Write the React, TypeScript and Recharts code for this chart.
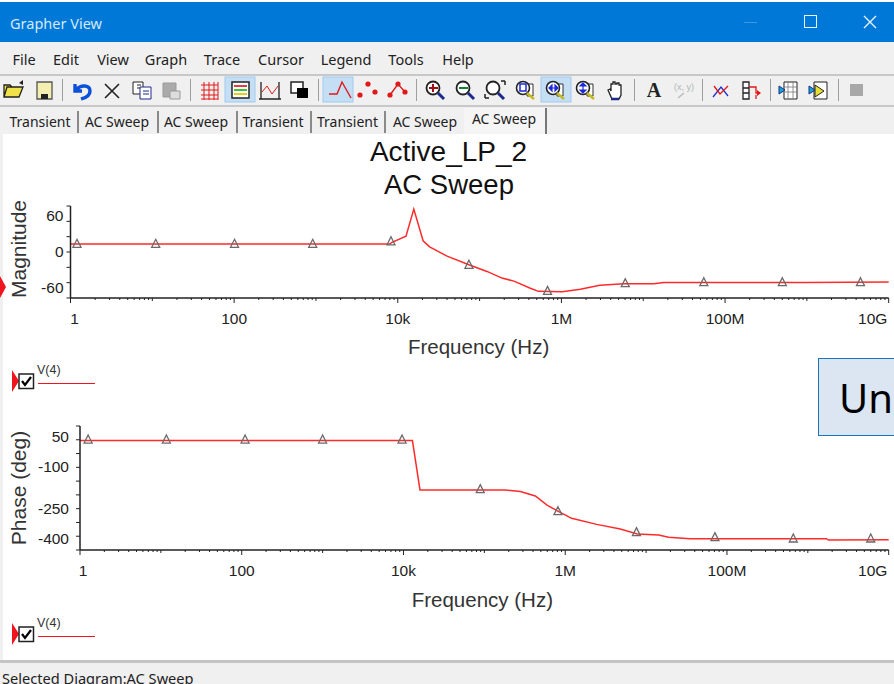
import { ComposedChart, Line, XAxis, YAxis } from 'recharts';
import type { CSSProperties, ReactNode } from 'react';

// sweep data
const magFreq = [1, 100, 1000, 8000, 8500, 12600, 15700, 20400, 24500, 40000, 74000, 123000, 188000, 263000, 417000, 525000, 1020000, 1700000, 2950000, 5800000, 13500000, 17800000, 1e9, 1e10];
const magValues = [15.5, 15.5, 15.5, 15.5, 19, 31, 84, 22, 10, -8, -25, -38, -51, -57, -71, -77, -78, -73, -65, -62, -62, -59.5, -59.5, -58.5];
const magMarkerFreq = [1.2, 11, 101, 912, 8260, 74100, 676000, 6030000, 55000000, 501000000, 4520000000];
const magMarkerValues = [15, 15, 15, 15, 20, -26, -77, -62, -60, -60, -60];

const phaseFreq = [1, 100, 1000, 12900, 16000, 182000, 279000, 427000, 596000, 832000, 1200000, 2450000, 4800000, 7800000, 14300000, 19000000, 35000000, 1700000000, 1800000000, 1e10];
const phaseValues = [-3, -3, -3, -3, -182, -182, -188, -204, -237, -261, -285, -307, -324, -342, -346, -354, -359, -359, -364, -363];
const phaseMarkerFreq = [1.26, 11.7, 110, 1000, 9600, 89000, 813000, 7600000, 71000000, 661000000, 6000000000];
const phaseMarkerValues = [-1, -1, -1, -1, -1, -181, -261, -337, -355, -360, -360];

const xMajorTicks = [1, 100, 10000, 1000000, 100000000, 10000000000];
const xMajorLabels = ['1', '100', '10k', '1M', '100M', '10G'];
const magTicks = [90, 60, 30, 0, -30, -60, -90];
const magTickLabels = [60, 0, -60];
const phaseTicks = [50, 0, -50, -100, -150, -200, -250, -300, -350, -400];
const phaseTickLabels = [50, -100, -250, -400];

const menuItems: [string, number][] = [['File', 24], ['Edit', 66], ['View', 113], ['Graph', 166], ['Trace', 222], ['Cursor', 281], ['Legend', 346], ['Tools', 406], ['Help', 458]];
const tabItems: [string, number][] = [['Transient', 40], ['AC Sweep', 117], ['AC Sweep', 196], ['Transient', 273], ['Transient', 347.5], ['AC Sweep', 425]];
const tabDividers = [77, 157, 236, 310, 384, 464];
const toolbarDividers = [62, 190, 318, 416, 634, 702, 770, 838];

const xTicks: number[] = [];
for (let d = 0; d < 10; d++) {
  for (let m = 1; m < 10; m++) xTicks.push(m * 10 ** d);
}
xTicks.push(1e10);

const toTable = (freq: number[], values: number[]) => freq.map((f, i) => ({ f, v: values[i] }));

const FONT = '"Liberation Sans", Arial, sans-serif';
const UI_FONT = '"Noto Sans", sans-serif';
const INK = '#222';

const XTick = ({ x, y, payload, firstShift }: any) => {
  const idx = xMajorTicks.indexOf(payload.value);
  const decade = Math.abs(Math.log10(payload.value) % 1) < 1e-9;
  const len = idx >= 0 ? 5 : decade ? 3 : 2;
  let dx = 0;
  if (idx === 0) dx = firstShift;
  if (idx === 5) dx = -16;
  return (
    <g>
      <line x1={x} x2={x} y1={y} y2={y + len} stroke={INK} strokeWidth={1} />
      {idx >= 0 && (
        <text x={x + dx} y={y + 25.5} textAnchor="middle" fontSize={15.5} fontFamily={FONT} fill={INK}>
          {xMajorLabels[idx]}
        </text>
      )}
    </g>
  );
};

const YTick = ({ x, y, payload, labels, gap, edgeShift }: any) => {
  const v = payload.value;
  const show = labels.includes(v);
  // the grapher nudges the outer labels towards or away from the plot
  let dy = 0;
  if (show && v === labels[0]) dy = edgeShift;
  if (show && v === labels[labels.length - 1]) dy = -edgeShift;
  return (
    <g>
      <line x1={x - 4} x2={x} y1={y} y2={y} stroke={INK} strokeWidth={1} />
      {show && (
        <text x={x - gap} y={y + dy + 5} textAnchor="end" fontSize={15.5} fontFamily={FONT} fill={INK}>
          {v}
        </text>
      )}
    </g>
  );
};

const Triangle = ({ cx, cy }: any) => {
  if (cx == null || cy == null) return null;
  return <path d={`M${cx} ${cy - 5}L${cx + 4} ${cy + 3}H${cx - 4}Z`} fill="none" stroke="#6a6a6a" strokeWidth={1.3} />;
};

interface PlotProps {
  top: number;
  height: number;
  left: number;
  yLabel: string;
  yDomain: [number, number];
  yTicks: number[];
  yTickLabels: number[];
  line: { f: number; v: number }[];
  markers: { f: number; v: number }[];
  labelGap: number;
  edgeShift: number;
  firstShift: number;
  yLabelDy: number;
  xLabelDx: number;
  xLabelOffset: number;
}

const Plot = ({ top, height, left, yLabel, yDomain, yTicks, yTickLabels, line, markers, labelGap, edgeShift, firstShift, yLabelDy, xLabelDx, xLabelOffset }: PlotProps) => (
  <div style={{ position: 'absolute', left: 0, top: top - 6 }}>
    <ComposedChart width={894} height={height + 6 + 64} margin={{ top: 6, right: 5.3, bottom: 0, left: 0 }}>
      <XAxis
        dataKey="f"
        type="number"
        scale="log"
        domain={[1, 1e10]}
        ticks={xTicks}
        interval={0}
        height={64}
        tickSize={0}
        tickMargin={0}
        tickLine={false}
        stroke={INK}
        strokeWidth={1.5}
        allowDuplicatedCategory={false}
        tick={<XTick firstShift={firstShift} />}
        label={{ value: 'Frequency (Hz)', position: 'insideBottom', offset: xLabelOffset, dx: xLabelDx, fontSize: 20.5, fontFamily: FONT, fill: '#333' }}
      />
      <YAxis
        type="number"
        width={left}
        domain={yDomain}
        ticks={yTicks}
        interval={0}
        tickSize={0}
        tickMargin={0}
        tickLine={false}
        stroke={INK}
        strokeWidth={1.5}
        tick={<YTick labels={yTickLabels} gap={labelGap} edgeShift={edgeShift} />}
        label={{ value: yLabel, angle: -90, position: 'insideLeft', dx: 14, dy: yLabelDy, fontSize: 21, fontFamily: FONT, fill: '#333', style: { textAnchor: 'middle' } }}
      />
      <Line data={line} dataKey="v" type="linear" stroke="#ff2a2a" strokeWidth={1.5} dot={false} isAnimationActive={false} />
      <Line data={markers} dataKey="v" stroke="none" dot={<Triangle />} activeDot={false} isAnimationActive={false} />
    </ComposedChart>
  </div>
);

const At = ({ x, y, size, font = UI_FONT, color = '#222', children, align = 'center', style }: { x: number; y: number; size: number; font?: string; color?: string; children: ReactNode; align?: string; style?: CSSProperties }) => (
  <span
    style={{
      position: 'absolute',
      left: x,
      top: y,
      fontSize: size,
      fontFamily: font,
      color,
      whiteSpace: 'nowrap',
      lineHeight: 1,
      transform: align === 'center' ? 'translate(-50%,-50%)' : 'translateY(-50%)',
      ...style,
    }}
  >
    {children}
  </span>
);

const Box = ({ x, y, w, h, bg, style }: { x: number; y: number; w: number; h: number; bg?: string; style?: CSSProperties }) => (
  <div style={{ position: 'absolute', left: x, top: y, width: w, height: h, background: bg, boxSizing: 'border-box', ...style }} />
);

// toolbar glyphs, drawn in one svg in page coordinates
const Lens = ({ x, inner }: { x: number; inner?: ReactNode }) => (
  <g>
    <circle cx={x - 2} cy={88} r={6.5} fill="#fff" stroke="#222" strokeWidth={1.8} />
    <path d={`M${x + 3} ${93}l6 6`} stroke="#1c2a8c" strokeWidth={3} />
    {inner}
  </g>
);

const ZoomTool = ({ x, children }: { x: number; children: ReactNode }) => (
  <g>
    <path d={`M${x + 2} ${84}h6v12h-6z`} fill="#fff" stroke="#333" strokeWidth={1} />
    <circle cx={x - 2} cy={88} r={6.5} fill="#fff" stroke="#222" strokeWidth={1.6} />
    <path d={`M${x + 2} ${93}l7 6`} stroke="#c8b820" strokeWidth={2.5} />
    {children}
  </g>
);

const Toolbar = () => (
  <svg width={894} height={30} viewBox="0 75 894 30" style={{ position: 'absolute', left: 0, top: 75 }}>
    <rect x={225} y={77} width={30} height={25} fill="#c4def4" stroke="#9fcbf0" />
    <rect x={323} y={77} width={30} height={25} fill="#c4def4" stroke="#9fcbf0" />
    <rect x={541} y={77} width={30} height={25} fill="#c4def4" stroke="#9fcbf0" />
    {toolbarDividers.map((x) => (
      <line key={x} x1={x + 0.5} x2={x + 0.5} y1={79} y2={101} stroke="#a0a0a0" />
    ))}
    {/* open, save */}
    <path d="M4 97l3-10h16l-4 10zM4 97V85h6l2 2h5" fill="#f2e24a" stroke="#222" strokeWidth={1.3} />
    <path d="M19 83l4-3v5z" fill="#222" />
    <path d="M37 82h15v17H37z" fill="#f4efb0" stroke="#555" strokeWidth={1.3} />
    <path d="M41 94h7v5h-7z" fill="#222" />
    {/* undo, delete, copy, paste */}
    <path d="M75 84v7h7M76 90c5-6 14-5 14 1s-6 7-9 8" fill="none" stroke="#0a50d8" strokeWidth={3.4} />
    <path d="M105 84l14 14M119 84l-14 14" stroke="#222" strokeWidth={1.6} />
    <path d="M133 82h10v12h-10z" fill="#fff" stroke="#222" />
    <path d="M137 85h4M137 88h4" stroke="#222" />
    <path d="M140 87h11v12h-11z" fill="#fff" stroke="#1c2a8c" />
    <path d="M143 91h6M143 94h6" stroke="#1c2a8c" />
    <path d="M163 83h13v14h-13z" fill="#aaa" stroke="#999" />
    <path d="M170 91h10v8h-10z" fill="#ddd" stroke="#999" />
    {/* grid, legend, toggle, overlay */}
    <path d="M201 85h17M201 90h17M201 95h17M201 99h17M204 82v18M209 82v18M214 82v18M218 82v18" stroke="#e01818" />
    <rect x={232} y={82} width={17} height={16} fill="#fff" stroke="#222" strokeWidth={1.5} />
    <path d="M234 86h13" stroke="#e04040" strokeWidth={2} />
    <path d="M234 90h13" stroke="#40c040" strokeWidth={2} />
    <path d="M234 94h13" stroke="#e0d020" strokeWidth={2} />
    <path d="M261 82v17M279 82v17M259 99h22" stroke="#222" strokeWidth={1.3} fill="none" />
    <path d="M262 92l5-6 5 8 6-8" stroke="#e01818" fill="none" />
    <rect x={291} y={82} width={12} height={11} fill="#fff" stroke="#222" strokeWidth={1.5} />
    <rect x={297} y={88} width={11} height={10} fill="#000" />
    {/* line, points, line and points */}
    <path d="M329 94h8l5-12 9 16" fill="none" stroke="#e01818" strokeWidth={1.4} />
    <circle cx={360} cy={95} r={2.6} fill="#e01818" />
    <circle cx={368} cy={84} r={2.6} fill="#e01818" />
    <circle cx={375} cy={92} r={2.6} fill="#e01818" />
    <path d="M390 95l8-11 7 8" fill="none" stroke="#e01818" strokeWidth={1.4} />
    <circle cx={390} cy={95} r={2.6} fill="#e01818" />
    <circle cx={398} cy={84} r={2.6} fill="#e01818" />
    <circle cx={405} cy={92} r={2.6} fill="#e01818" />
    {/* zoom tools */}
    <Lens x={435} inner={<path d="M429 88h9M433 84v8" stroke="#a01010" strokeWidth={2} />} />
    <Lens x={465} inner={<path d="M459 88h9" stroke="#108030" strokeWidth={2} />} />
    <Lens x={495} inner={<path d="M485 98v-4M485 98h4M505 81h-4M505 81v4" stroke="#222" strokeWidth={1.5} fill="none" />} />
    <ZoomTool x={525}>
      <rect x={520} y={84} width={6} height={7} fill="none" stroke="#1c2ad8" strokeWidth={1.5} />
    </ZoomTool>
    <ZoomTool x={555}>
      <path d="M549 88h9M549 88l3-3v6zM558 88l-3-3v6z" stroke="#1c2ad8" fill="#1c2ad8" strokeWidth={1.2} />
    </ZoomTool>
    <ZoomTool x={585}>
      <path d="M583 83v10M583 83l-3 3h6zM583 93l-3-3h6z" stroke="#1c2ad8" fill="#1c2ad8" strokeWidth={1.2} />
    </ZoomTool>
    <path d="M608 90l2-1 1 2v-7h2v-2h2v2h2v-1h2v2h2v10l-2 4h-7z" fill="#fff" stroke="#222" strokeWidth={1.3} />
    <path d="M611 99h8" stroke="#1c2a8c" strokeWidth={2.5} />
    <text x={654} y={97} textAnchor="middle" fontSize={20} fontWeight={700} fontFamily='"Liberation Serif", serif' fill="#222">A</text>
    <text x={684} y={90} textAnchor="middle" fontSize={9} fontFamily={FONT} fill="#b5b5b5">(x, y)</text>
    <path d="M678 98l6-5" stroke="#bbb" strokeWidth={1.5} />
    {/* cursors, export */}
    <path d="M713 97l8-10 7 9" fill="none" stroke="#2030d0" strokeWidth={1.3} />
    <path d="M714 86l6 8 8-8" fill="none" stroke="#e01818" strokeWidth={1.3} />
    <path d="M743 82h6v17h-6zM743 88h6M743 93h6" fill="#fff" stroke="#222" strokeWidth={1.3} />
    <path d="M749 87h7v6h4M756 99v-4" fill="none" stroke="#e01818" strokeWidth={1.3} />
    <path d="M757 90l4 3-4 3z" fill="#e01818" />
    <path d="M784 82h13v17h-13z" fill="#fff" stroke="#222" />
    <path d="M784 87h13M784 92h13M788 82v17M793 82v17" stroke="#777" strokeWidth={0.8} />
    <path d="M779 86l6 4-6 4z" fill="#10a8d0" stroke="#1c2a8c" />
    <path d="M814 82h13v17h-13z" fill="#fff" stroke="#222" />
    <path d="M815 85l9 6-9 6z" fill="#e8e030" stroke="#222" />
    <path d="M809 86l6 4-6 4z" fill="#10a8d0" stroke="#1c2a8c" />
    <rect x={850} y={84} width={13} height={12} fill="#a8a8a8" />
  </svg>
);

const RedMark = ({ x, y, w, h }: { x: number; y: number; w: number; h: number }) => (
  <svg width={w} height={h} style={{ position: 'absolute', left: x, top: y }}>
    <path d={`M0 0L${w} ${h / 2}L0 ${h}Z`} fill="#f0141e" />
  </svg>
);

const LegendEntry = ({ y }: { y: number }) => (
  <>
    <RedMark x={12} y={y - 11} w={7} h={22} />
    <svg width={17} height={17} style={{ position: 'absolute', left: 18, top: y - 8 }}>
      <rect x={1} y={1} width={14.5} height={14.5} fill="#fff" stroke="#222" strokeWidth={1.5} />
      <path d="M4 8l3 4 6-8" fill="none" stroke="#000" strokeWidth={2.2} />
    </svg>
    <At x={37} y={y - 11} size={12.5} font={FONT} align="left" color="#333">V(4)</At>
    <Box x={38} y={y + 2} w={57} h={1.3} bg="#f0141e" />
  </>
);

export default function App() {
  return (
    <div style={{ position: 'fixed', left: 0, top: 0, width: 894, height: 684, overflow: 'hidden', background: '#f0f0f0' }}>
      {/* window chrome */}
      <Box x={0} y={2} w={894} h={40} bg="#0078d7" />
      <Box x={0} y={0} w={894} h={2} bg="#fff" />
      <At x={10} y={23} size={14.5} color="#d5e8f8" align="left">Grapher View</At>
      <Box x={744} y={22} w={13} h={1} bg="#3c98e0" />
      <Box x={803.5} y={15} w={13} h={13} style={{ border: '1.3px solid #eaf4fc' }} />
      <svg width={14} height={14} style={{ position: 'absolute', left: 863, top: 15 }}>
        <path d="M1 1l12 12M13 1L1 13" stroke="#eaf4fc" strokeWidth={1.4} />
      </svg>
      {menuItems.map(([m, x]) => (
        <At key={m} x={x} y={59} size={14.5}>{m}</At>
      ))}
      <Box x={0} y={74} w={894} h={1.5} bg="#c8c8c8" />
      <Toolbar />
      <Box x={0} y={105} w={894} h={1.5} bg="#c8c8c8" />
      {tabItems.map(([t, x], i) => (
        <At key={i} x={x} y={122} size={14}>{t}</At>
      ))}
      {tabDividers.map((x) => (
        <Box key={x} x={x} y={111} w={1.5} h={22} bg="#8a8a8a" />
      ))}
      <Box x={464} y={108} w={83} h={26} bg="#f5f5f5" style={{ borderRight: '2px solid #777' }} />
      <At x={504} y={119} size={14}>AC Sweep</At>

      {/* white diagram area */}
      <Box x={3} y={134} w={891} h={526} bg="#fff" />
      <Box x={0} y={660} w={894} h={3} bg="#c4c4c4" />
      <At x={2} y={678} size={14.6} align="left">Selected Diagram:AC Sweep</At>

      <At x={448.5} y={152} size={28} font={FONT} color="#111">Active_LP_2</At>
      <At x={449} y={185} size={27.5} font={FONT} color="#111">AC Sweep</At>

      <Plot
        top={206}
        height={92}
        left={70.5}
        yLabel="Magnitude"
        yDomain={[-90, 90]}
        yTicks={magTicks}
        yTickLabels={magTickLabels}
        line={toTable(magFreq, magValues)}
        markers={toTable(magMarkerFreq, magMarkerValues)}
        labelGap={7}
        edgeShift={-5}
        firstShift={4}
        yLabelDy={-3}
        xLabelDx={-1}
        xLabelOffset={8}
      />
      <Plot
        top={426}
        height={124}
        left={80}
        yLabel="Phase (deg)"
        yDomain={[-400, 50]}
        yTicks={phaseTicks}
        yTickLabels={phaseTickLabels}
        line={toTable(phaseFreq, phaseValues)}
        markers={toTable(phaseMarkerFreq, phaseMarkerValues)}
        labelGap={11}
        edgeShift={11}
        firstShift={3}
        yLabelDy={0}
        xLabelDx={-2}
        xLabelOffset={7}
      />

      <RedMark x={0} y={276} w={6} h={22} />
      <LegendEntry y={381} />
      <LegendEntry y={634} />

      {/* callout cut off by the window edge */}
      <div style={{ position: 'absolute', left: 818, top: 358, width: 90, height: 78, background: '#dce6f2', border: '1.5px solid #1a75bc', boxSizing: 'border-box' }} />
      <At x={839} y={398} size={40} align="left" color="#000">Un</At>
    </div>
  );
}
